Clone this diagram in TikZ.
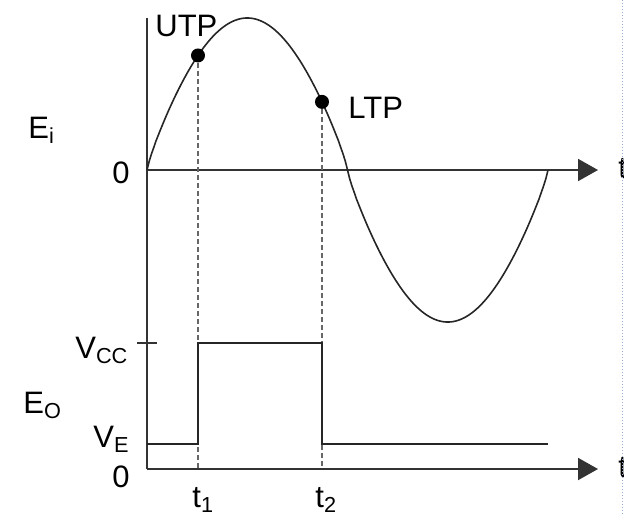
\documentclass[tikz,border=0pt]{standalone}
\definecolor{EdgeBlue}{RGB}{150, 175, 210}
\usepackage{fontspec}
\setmainfont{Liberation Sans}
\usetikzlibrary{arrows.meta}

\begin{document}
\begin{tikzpicture}[x=0.5pt, y=-0.5pt,
    axis/.style={line width=1pt, draw=black!80},
    axisarrow/.style={axis, -{Triangle[length=10pt, width=11pt]}},
    wave/.style={line width=0.8pt, draw=black!85},
    pulse/.style={line width=1pt, draw=black!85},
    guide/.style={line width=0.9pt, draw=black!60, dash pattern=on 2.5pt off 1.5pt},
    dot/.style={circle, fill=black, inner sep=0pt, minimum size=7pt},
    lbl/.style={inner sep=0pt, anchor=base west, font=\fontsize{15.5}{18}\selectfont}]
  \useasboundingbox (0,0) rectangle (625,515);
  \begin{scope}
    \clip (0,0) rectangle (623,515);

    \coordinate (top) at (147,18);
    \coordinate (origin) at (147,170);
    \coordinate (tend) at (598,170);
    \coordinate (base) at (147,469);
    \coordinate (bend) at (598,469);
    \coordinate (t1foot) at (198,469);
    \coordinate (t2foot) at (322,469);

    \draw[axis] (top) -- (base);
    \draw[axisarrow] (origin) -- (tend);
    \draw[axisarrow] (base) -- (bend);

    \draw[wave] plot[domain=0:200.5, samples=90] ({147+\x}, {170-152*pow(abs(sin(\x/401*360))+0.0001,0.85)});
    \draw[wave] plot[domain=200.5:401, samples=90] ({147+\x}, {170+152*pow(abs(sin(\x/401*360))+0.0001,0.85)});

    \node[dot] (utp) at (198,{170-152*pow(sin(51/401*360),0.85)}) {};
    \node[dot] (ltp) at (322,{170-152*pow(sin(175/401*360),0.85)}) {};

    \draw[guide] (utp) -- (t1foot);
    \draw[guide] (ltp) -- (t2foot);

    \draw[axis] (137,343) -- (157,343);
    \draw[pulse] (147,444) -- (198,444) -- (198,343) -- (322,343) -- (322,444) -- (548,444);

    \node[lbl] (utplbl) at (155,36) {UTP};
    \node[lbl] (ltplbl) at (348,118) {LTP};
    \node[lbl] (ei) at (28,138) {E\textsubscript{i}};
    \node[lbl] (zerotop) at (112,183) {0};
    \node[lbl] (ttop) at (618,178) {t};
    \node[lbl] (vcc) at (75,358) {V\textsubscript{CC}};
    \node[lbl] (eo) at (23,413) {E\textsubscript{O}};
    \node[lbl] (ve) at (93,447) {V\textsubscript{E}};
    \node[lbl] (zerobot) at (112,487) {0};
    \node[lbl] (tone) at (192,507) {t\textsubscript{1}};
    \node[lbl] (ttwo) at (315,507) {t\textsubscript{2}};
    \node[lbl] (tbot) at (618,477) {t};

    \draw[EdgeBlue, line width=0.5pt, densely dotted] (622,0) -- (622,515);
  \end{scope}
\end{tikzpicture}
\end{document}
